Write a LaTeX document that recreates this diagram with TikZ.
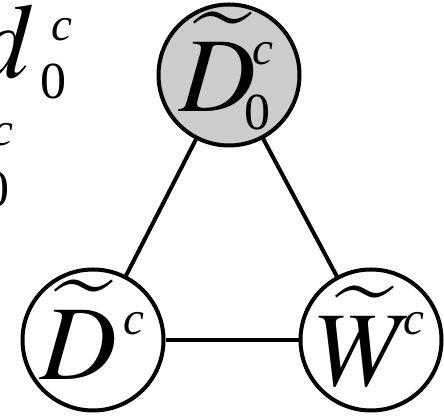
\documentclass[tikz,border=0pt]{standalone}
\usepackage{mathptmx}
\usepackage{fontspec}
\setmainfont{Liberation Serif}
\begin{document}
\begin{tikzpicture}[x=1pt,y=1pt,
  vertex/.style={circle,draw=black,line width=4pt,minimum size=141pt,inner sep=0pt},
  edge/.style={line width=4pt},
  big/.style={inner sep=0pt,anchor=base west,font=\fontsize{106}{106}\selectfont},
  supc/.style={inner sep=0pt,anchor=base west,font=\fontsize{47}{47}\selectfont\itshape},
  subz/.style={inner sep=0pt,anchor=base west,font=\fontsize{52}{52}\selectfont\upshape}]
\useasboundingbox (0,0) rectangle (444,419);
\clip (0,0) rectangle (444,419);
% partial labels at top left
\node[big] (t1) at (-24,341) {$\widetilde{d}$};
\node[supc] (t1c) at (51,378) {c};
\node[subz] (t1z) at (40,320) {0};
\node[supc,anchor=base east] (t2c) at (14,273) {c};
\node[subz,anchor=base east] (t2z) at (10,212) {0};
% vertices
\node[vertex,fill=black!20] (d0) at (229,344) {};
\node[vertex] (d) at (93,79) {};
\node[vertex] (w) at (371,79) {};
% labels
\node[big] (d0l) at (179,307) {$\widetilde{D}$};
\node[supc] (d0c) at (252,354) {c};
\node[subz] (d0z) at (244,289) {0};
\node[big] (dl) at (40,39) {$\widetilde{D}$};
\node[supc] (dc) at (123,84) {c};
\node[big] (wl) at (317,33) {$\widetilde{W}$};
\node[supc] (wc) at (403,84) {c};
% edges
\draw[edge] (d0) -- (d);
\draw[edge] (d0) -- (w);
\draw[edge] (d) -- (w);
\end{tikzpicture}
\end{document}
